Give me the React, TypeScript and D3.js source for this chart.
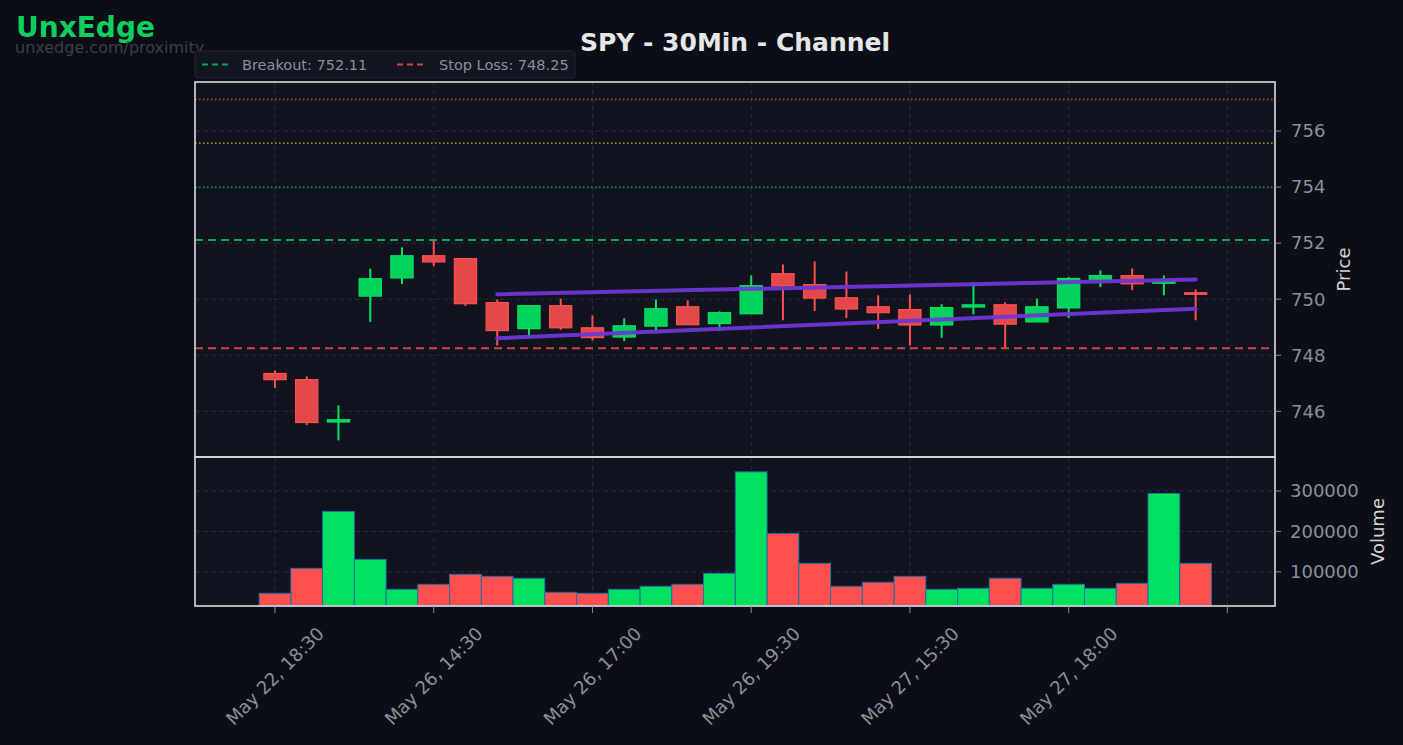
import React, { useEffect, useRef } from 'react';
import * as d3 from 'd3';

// 30 min candles, index 0..29
const opens = [747.35, 747.13, 745.62, 750.11, 750.76, 751.55, 751.45, 749.88, 748.95, 749.77,
  748.98, 748.65, 749.04, 749.73, 749.13, 749.48, 750.91, 750.52, 750.05, 749.73,
  749.63, 749.08, 749.72, 749.80, 749.19, 749.69, 750.70, 750.84, 750.57, 750.23];
const highs = [747.46, 747.25, 746.21, 751.09, 751.85, 752.09, 751.47, 749.99, 749.78, 750.02,
  749.42, 749.32, 749.99, 749.96, 749.57, 750.85, 751.24, 751.35, 750.99, 750.14,
  750.17, 749.82, 750.59, 749.89, 750.02, 750.79, 751.03, 751.10, 750.85, 750.35];
const lows = [746.83, 745.51, 744.96, 749.19, 750.54, 751.18, 749.76, 748.35, 748.65, 748.91,
  748.53, 748.51, 748.81, 749.09, 748.86, 749.48, 749.25, 749.58, 749.33, 748.94,
  748.35, 748.62, 749.46, 748.27, 749.19, 749.33, 750.43, 750.32, 750.14, 749.25];
const closes = [747.13, 745.60, 745.70, 750.73, 751.55, 751.33, 749.84, 748.88, 749.77, 748.98,
  748.63, 749.05, 749.66, 749.09, 749.52, 750.48, 750.47, 750.04, 749.65, 749.52,
  749.08, 749.70, 749.80, 749.11, 749.73, 750.74, 750.84, 750.55, 750.63, 750.21];
const volumes = [46900, 108600, 249400, 130900, 56800, 69100, 93800, 88900, 84000, 49400,
  46900, 56800, 64200, 69100, 96300, 347200, 195000, 121000, 64200, 74100,
  88900, 56800, 59300, 84000, 59300, 69100, 59300, 71600, 293800, 121000];

const tickLabels = ['May 22, 18:30', 'May 26, 14:30', 'May 26, 17:00', 'May 26, 19:30', 'May 27, 15:30', 'May 27, 18:00'];
const tickIndexes = [0, 5, 10, 15, 20, 25, 30];
const priceTicks = [746, 748, 750, 752, 754, 756];
const volumeTicks = [100000, 200000, 300000];

const breakout = 752.11;
const stopLoss = 748.25;
const targets = [753.99, 755.57, 757.13];
const targetColors = ['#1d8a55', '#9a8420', '#a04f22'];

const channelIdx = [7, 29];
const channelUpper = [750.18, 750.70];
const channelLower = [748.61, 749.66];

const W = 1403;
const H = 745;
const font = 'DejaVu Sans, sans-serif';

export default function App() {
  const ref = useRef<SVGSVGElement>(null);

  useEffect(() => {
    const svg = d3.select(ref.current);
    svg.selectAll('*').remove();

    const left = 195, right = 1275;
    const pTop = 82, pBot = 457, vBot = 606;

    const x = d3.scaleLinear().domain([-2.52, 31.5]).range([left, right]);
    const y = d3.scaleLinear().domain([744.37, 757.75]).range([pBot, pTop]);
    const yv = d3.scaleLinear().domain([15500, 384000]).range([vBot, pBot]);
    const step = x(1) - x(0);

    svg.append('rect').attr('width', W).attr('height', H).attr('fill', '#0b0e17');

    // panels
    svg.append('rect').attr('x', left).attr('y', pTop).attr('width', right - left).attr('height', pBot - pTop).attr('fill', '#11141f');
    svg.append('rect').attr('x', left).attr('y', pBot).attr('width', right - left).attr('height', vBot - pBot).attr('fill', '#11141f');

    const grid = svg.append('g').attr('stroke', '#262b39').attr('stroke-width', 1).attr('stroke-dasharray', '5,3');
    tickIndexes.forEach(i => {
      grid.append('line').attr('x1', x(i)).attr('x2', x(i)).attr('y1', pTop).attr('y2', pBot);
      grid.append('line').attr('x1', x(i)).attr('x2', x(i)).attr('y1', pBot).attr('y2', vBot);
    });
    priceTicks.forEach(p => {
      grid.append('line').attr('x1', left).attr('x2', right).attr('y1', y(p)).attr('y2', y(p));
    });
    volumeTicks.forEach(v => {
      grid.append('line').attr('x1', left).attr('x2', right).attr('y1', yv(v)).attr('y2', yv(v));
    });

    // target lines
    targets.forEach((t, i) => {
      svg.append('line').attr('x1', left).attr('x2', right).attr('y1', y(t)).attr('y2', y(t))
        .attr('stroke', targetColors[i]).attr('stroke-width', 1.6).attr('stroke-dasharray', '1.6,2.4');
    });
    svg.append('line').attr('x1', left).attr('x2', right).attr('y1', y(breakout)).attr('y2', y(breakout))
      .attr('stroke', '#00ad57').attr('stroke-width', 2).attr('stroke-dasharray', '8,5');
    svg.append('line').attr('x1', left).attr('x2', right).attr('y1', y(stopLoss)).attr('y2', y(stopLoss))
      .attr('stroke', '#cc4648').attr('stroke-width', 2).attr('stroke-dasharray', '8,5');

    // candles
    const idx = d3.range(opens.length);
    const bodyW = step * 0.7;
    const candles = svg.append('g');
    idx.forEach(i => {
      const up = closes[i] >= opens[i];
      const edge = up ? '#00e463' : '#ff5050';
      const fill = up ? '#00d25b' : '#e5484b';
      candles.append('line').attr('x1', x(i)).attr('x2', x(i)).attr('y1', y(highs[i])).attr('y2', y(lows[i]))
        .attr('stroke', edge).attr('stroke-width', 2);
      const top = y(Math.max(opens[i], closes[i]));
      const h = Math.max(Math.abs(y(opens[i]) - y(closes[i])), 1.5);
      candles.append('rect').attr('x', x(i) - bodyW / 2).attr('y', top).attr('width', bodyW).attr('height', h)
        .attr('fill', fill).attr('stroke', edge).attr('stroke-width', 1.2);
    });

    // channel
    [channelUpper, channelLower].forEach(c => {
      svg.append('line').attr('x1', x(channelIdx[0])).attr('x2', x(channelIdx[1]))
        .attr('y1', y(c[0])).attr('y2', y(c[1]))
        .attr('stroke', '#6d36d6').attr('stroke-width', 4).attr('stroke-linecap', 'round').attr('opacity', 0.95);
    });

    // volume bars
    const vol = svg.append('g');
    idx.forEach(i => {
      const up = closes[i] >= opens[i];
      vol.append('rect').attr('x', x(i - 0.5)).attr('y', yv(volumes[i])).attr('width', step)
        .attr('height', vBot - yv(volumes[i]))
        .attr('fill', up ? '#00e25f' : '#ff5050').attr('stroke', '#1f6fa8').attr('stroke-width', 1);
    });

    // spines
    [[pTop, pBot], [pBot, vBot]].forEach(([a, b]) => {
      svg.append('rect').attr('x', left).attr('y', a).attr('width', right - left).attr('height', b - a)
        .attr('fill', 'none').attr('stroke', '#dcdcdc').attr('stroke-width', 1.6);
    });

    // y ticks
    const tickColor = '#8b8f99';
    priceTicks.forEach(p => {
      svg.append('line').attr('x1', right).attr('x2', right + 6).attr('y1', y(p)).attr('y2', y(p)).attr('stroke', tickColor);
      svg.append('text').attr('x', right + 16).attr('y', y(p)).attr('dy', '0.35em').text(p)
        .attr('fill', tickColor).attr('font-size', 18).attr('font-family', font);
    });
    volumeTicks.forEach(v => {
      svg.append('line').attr('x1', right).attr('x2', right + 6).attr('y1', yv(v)).attr('y2', yv(v)).attr('stroke', tickColor);
      svg.append('text').attr('x', right + 15).attr('y', yv(v)).attr('dy', '0.35em').text(v)
        .attr('fill', tickColor).attr('font-size', 18).attr('font-family', font);
    });
    svg.append('text').attr('transform', `translate(1350,${(pTop + pBot) / 2}) rotate(-90)`)
      .attr('text-anchor', 'middle').text('Price').attr('fill', '#d4d4d4').attr('font-size', 18).attr('font-family', font);
    svg.append('text').attr('transform', `translate(1384,${(pBot + vBot) / 2}) rotate(-90)`)
      .attr('text-anchor', 'middle').text('Volume').attr('fill', '#d4d4d4').attr('font-size', 18).attr('font-family', font);

    // x ticks
    tickIndexes.forEach((i, k) => {
      svg.append('line').attr('x1', x(i)).attr('x2', x(i)).attr('y1', vBot).attr('y2', vBot + 7).attr('stroke', tickColor);
      if (tickLabels[k]) {
        svg.append('text').attr('transform', `translate(${x(i)},676) rotate(-45)`)
          .attr('text-anchor', 'middle').attr('dy', '0.35em').text(tickLabels[k])
          .attr('fill', tickColor).attr('font-size', 18).attr('font-family', font);
      }
    });

    // title & brand
    svg.append('text').attr('x', (left + right) / 2).attr('y', 51).attr('text-anchor', 'middle')
      .text('SPY - 30Min - Channel').attr('fill', '#e6e6e6').attr('font-size', 25).attr('font-weight', 'bold').attr('font-family', font);
    svg.append('text').attr('x', 16).attr('y', 37).text('UnxEdge')
      .attr('fill', '#0fcf5f').attr('font-size', 28).attr('font-weight', 'bold').attr('font-family', font);
    svg.append('text').attr('x', 15).attr('y', 53).text('unxedge.com/proximity')
      .attr('fill', '#3b404c').attr('font-size', 16).attr('font-family', font);

    // legend
    const lg = svg.append('g');
    lg.append('rect').attr('x', 195).attr('y', 51).attr('width', 380).attr('height', 27).attr('rx', 3)
      .attr('fill', '#121621').attr('stroke', '#222734');
    lg.append('line').attr('x1', 202).attr('x2', 230).attr('y1', 64.5).attr('y2', 64.5)
      .attr('stroke', '#00ad57').attr('stroke-width', 2).attr('stroke-dasharray', '6,4');
    lg.append('text').attr('x', 242).attr('y', 70).text(`Breakout: ${breakout.toFixed(2)}`)
      .attr('fill', '#8a8f99').attr('font-size', 14.5).attr('font-family', font);
    lg.append('line').attr('x1', 397).attr('x2', 425).attr('y1', 64.5).attr('y2', 64.5)
      .attr('stroke', '#cc4648').attr('stroke-width', 2).attr('stroke-dasharray', '6,4');
    lg.append('text').attr('x', 439).attr('y', 70).text(`Stop Loss: ${stopLoss.toFixed(2)}`)
      .attr('fill', '#8a8f99').attr('font-size', 14.5).attr('font-family', font);
  }, []);

  return (
    <svg ref={ref} width={W} height={H} style={{ display: 'block', position: 'absolute', left: 0, top: 0 }} />
  );
}
